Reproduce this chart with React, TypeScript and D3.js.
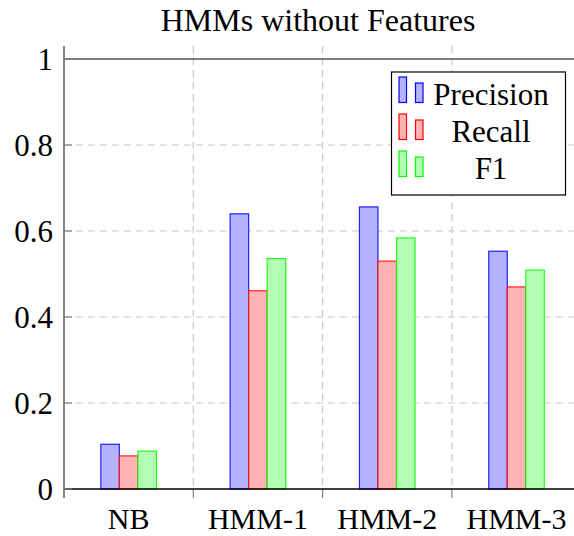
import React from "react";
import * as d3 from "d3";

const categories = ["NB", "HMM-1", "HMM-2", "HMM-3"];
const seriesNames = ["Precision", "Recall", "F1"];
const precision = [0.104, 0.64, 0.656, 0.553];
const recall = [0.077, 0.461, 0.53, 0.47];
const f1 = [0.088, 0.536, 0.584, 0.509];
const yTicks = [0, 0.2, 0.4, 0.6, 0.8, 1];

const fills = ["#b3b3ff", "#ffb3b3", "#b3ffb3"];
const strokes = ["#0000ff", "#ff0000", "#00ff00"];

const W = 574;
const H = 536;
const FONT = "'Liberation Serif', 'DejaVu Serif', serif";

export default function App() {
  const margin = { left: 64, top: 59, bottom: 47 };
  const groupW = 129.3;

  const x = d3
    .scaleBand()
    .domain(categories)
    .range([margin.left, margin.left + groupW * categories.length])
    .padding(0);

  const y = d3.scaleLinear().domain([0, 1]).range([489, 59]);

  const inner = d3
    .scaleBand()
    .domain(seriesNames)
    .range([-27.8, 27.8])
    .padding(0);

  const values = [precision, recall, f1];
  const right = W;

  // boundaries between categories (grid + ticks)
  const bounds = categories.map((c) => x(c));

  return (
    <div style={{ position: "fixed", left: 0, top: 0, width: W, height: H, overflow: "hidden" }}>
      <svg width={W} height={H} style={{ display: "block", background: "#fff" }}>
        {/* title */}
        <text
          x={318}
          y={31}
          textAnchor="middle"
          fontFamily={FONT}
          fontSize={32}
          fill="#000"
        >
          HMMs without Features
        </text>

        {/* horizontal grid */}
        {yTicks
          .filter((t) => t > 0 && t < 1)
          .map((t) => (
            <line
              key={"hg" + t}
              x1={margin.left}
              x2={right}
              y1={y(t)}
              y2={y(t)}
              stroke="#c8c8c8"
              strokeWidth={1.2}
              strokeDasharray="7,5"
            />
          ))}

        {/* vertical grid at category boundaries */}
        {bounds.slice(1).map((b, i) => (
          <g key={"vg" + i}>
            <line
              x1={b}
              x2={b}
              y1={46}
              y2={489}
              stroke="#c8c8c8"
              strokeWidth={1.2}
              strokeDasharray="7,5"
            />
            <line x1={b} x2={b} y1={489} y2={498} stroke="#808080" strokeWidth={1.2} />
          </g>
        ))}

        {/* top line at y = 1 */}
        <line x1={margin.left} x2={right} y1={y(1)} y2={y(1)} stroke="#555" strokeWidth={1.5} />

        {/* bars */}
        {seriesNames.map((s, si) =>
          categories.map((c, ci) => {
            const cx = (x(c) as number) + x.bandwidth() / 2;
            const bx = cx + (inner(s) as number);
            const v = values[si][ci];
            return (
              <rect
                key={s + c}
                x={bx}
                y={y(v)}
                width={inner.bandwidth()}
                height={y(0) - y(v)}
                fill={fills[si]}
                stroke={strokes[si]}
                strokeWidth={1.2}
                strokeOpacity={0.85}
              />
            );
          })
        )}

        {/* x axis line */}
        <line x1={margin.left} x2={right} y1={y(0)} y2={y(0)} stroke="#000" strokeWidth={1.3} />

        {/* y axis */}
        <line x1={margin.left} x2={margin.left} y1={46} y2={498} stroke="#666" strokeWidth={1.6} />
        {yTicks.map((t) => (
          <g key={"yt" + t}>
            <line
              x1={margin.left}
              x2={margin.left + 8}
              y1={y(t)}
              y2={y(t)}
              stroke="#808080"
              strokeWidth={1.2}
            />
            <text
              x={53}
              y={y(t) + 10.5}
              textAnchor="end"
              fontFamily={FONT}
              fontSize={31}
              fill="#000"
            >
              {d3.format("")(t)}
            </text>
          </g>
        ))}

        {/* x labels */}
        {categories.map((c) => (
          <text
            key={"xl" + c}
            x={(x(c) as number) + x.bandwidth() / 2}
            y={529}
            textAnchor="middle"
            fontFamily={FONT}
            fontSize={30}
            fill="#000"
          >
            {c}
          </text>
        ))}

        {/* legend */}
        <g>
          <rect x={391.5} y={72} width={174} height={123} fill="#fff" stroke="#000" strokeWidth={1.2} />
          {seriesNames.map((s, si) => {
            const base = 105 + si * 37;
            return (
              <g key={"lg" + s}>
                <rect
                  x={399}
                  y={base - 28}
                  width={7.5}
                  height={25.5}
                  fill={fills[si]}
                  stroke={strokes[si]}
                  strokeWidth={1.2}
                />
                <rect
                  x={415.5}
                  y={base - 22}
                  width={7.5}
                  height={19.5}
                  fill={fills[si]}
                  stroke={strokes[si]}
                  strokeWidth={1.2}
                />
                <text
                  x={491}
                  y={base}
                  textAnchor="middle"
                  fontFamily={FONT}
                  fontSize={31}
                  fill="#000"
                >
                  {s}
                </text>
              </g>
            );
          })}
        </g>
      </svg>
    </div>
  );
}
